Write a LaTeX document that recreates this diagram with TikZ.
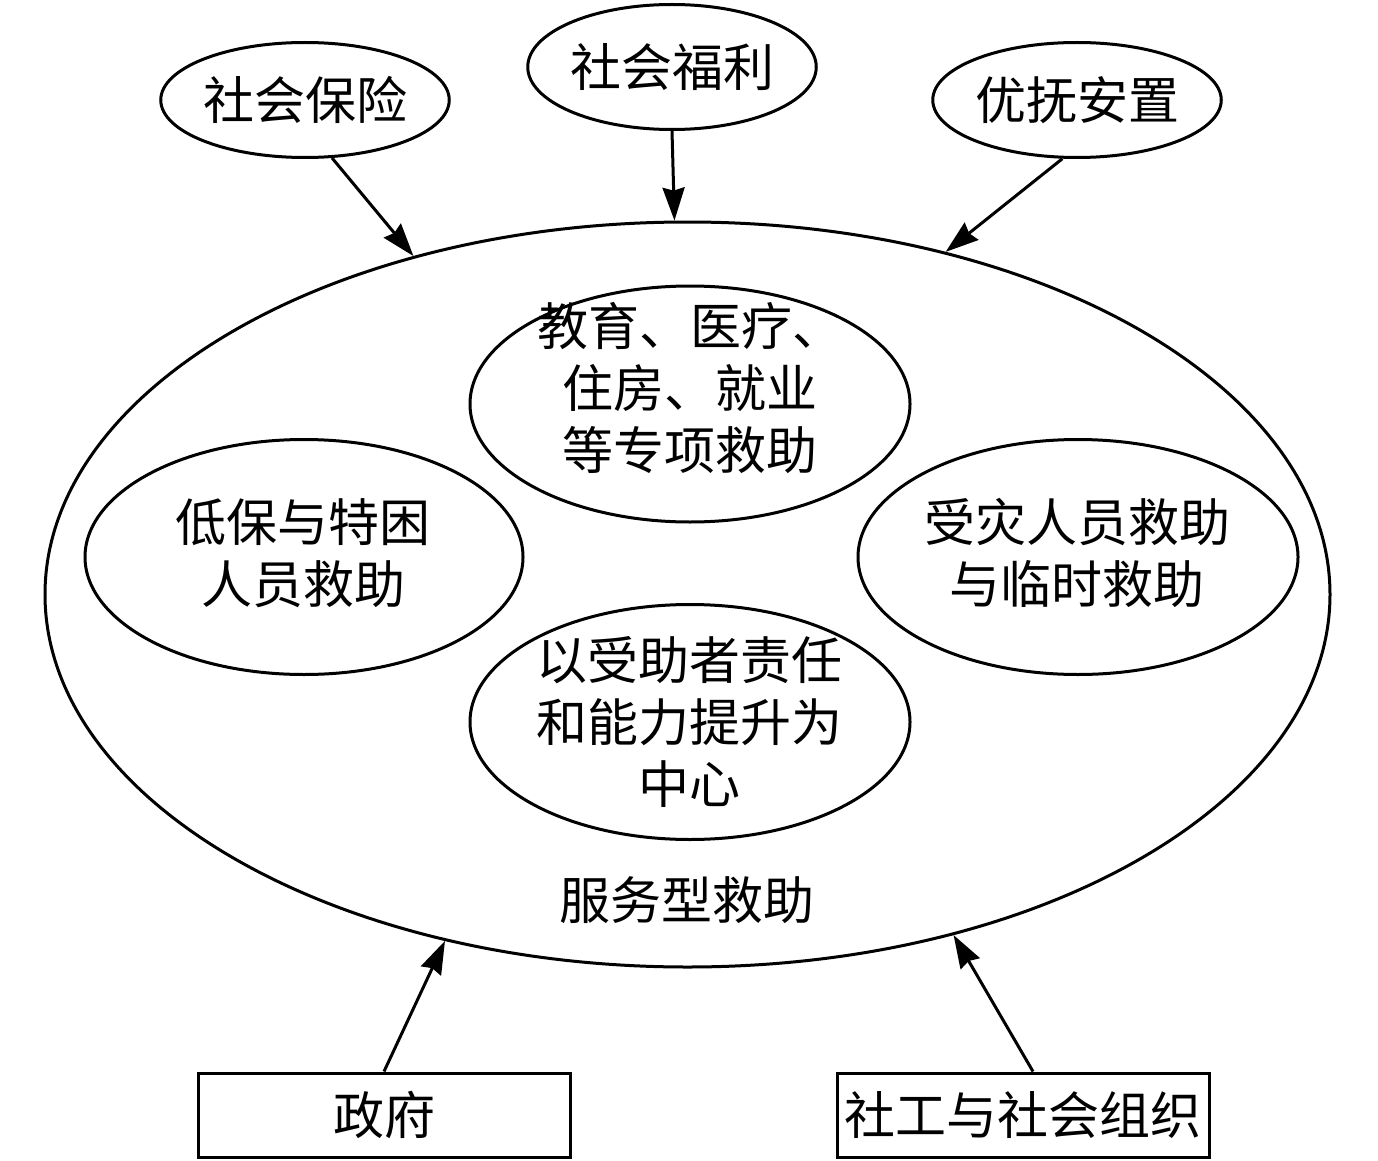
\documentclass[tikz,border=0pt]{standalone}
\usepackage{fontspec}
\setmainfont{Noto Sans CJK SC}
\usetikzlibrary{arrows.meta,shapes.geometric}
\begin{document}
\begin{tikzpicture}[x=1pt,y=-1pt,
  every node/.style={font=\fontsize{51}{62}\selectfont},
  oval/.style={draw, ellipse, line width=3pt, inner sep=0pt},
  box/.style={draw, rectangle, line width=3pt, minimum width=372pt, minimum height=84pt, inner sep=0pt},
  txt/.style={align=center, inner sep=0pt},
  arr/.style={line width=3pt, -{Stealth[length=33pt,width=22pt,inset=3pt]}}]
\useasboundingbox (0,0) rectangle (1378,1161);
% outer ellipse
\node[oval, minimum width=1285pt, minimum height=745pt] (big) at (687.5,594.5) {};
% top ellipses
\node[oval, minimum width=285pt, minimum height=115pt] (sb) at (305,100) {社会保险};
\node[oval, minimum width=285pt, minimum height=125pt] (sf) at (672,67) {社会福利};
\node[oval, minimum width=285pt, minimum height=115pt] (yf) at (1077,100) {优抚安置};
% inner ellipses
\node[oval, minimum width=440pt, minimum height=236pt] (edu) at (690,404) {};
\node[oval, minimum width=438pt, minimum height=235pt] (dib) at (304,557) {};
\node[oval, minimum width=440pt, minimum height=235pt] (zai) at (1078,557) {};
\node[oval, minimum width=440pt, minimum height=235pt] (cap) at (690,722) {};
\node[txt] (edut) at (690,388) {教育、医疗、\\住房、就业\\等专项救助};
\node[txt] (dibt) at (303,553) {低保与特困\\人员救助};
\node[txt] (zait) at (1077,553) {受灾人员救助\\与临时救助};
\node[txt] (capt) at (689,722) {以受助者责任\\和能力提升为\\中心};
\node[txt] (fw) at (687,900) {服务型救助};
% bottom boxes
\node[box] (zf) at (384,1115) {政府};
\node[box] (sg) at (1023,1115) {社工与社会组织};
% arrows
\draw[arr] (sb.-65) -- (big.129.4);
\draw[arr] (sf.south) -- (big.92.4);
\draw[arr] (yf.-104) -- (big.53.8);
\draw[arr] (zf.north) -- (big.235.9);
\draw[arr] ([xshift=10pt]sg.north) -- (big.308.1);
\end{tikzpicture}
\end{document}
